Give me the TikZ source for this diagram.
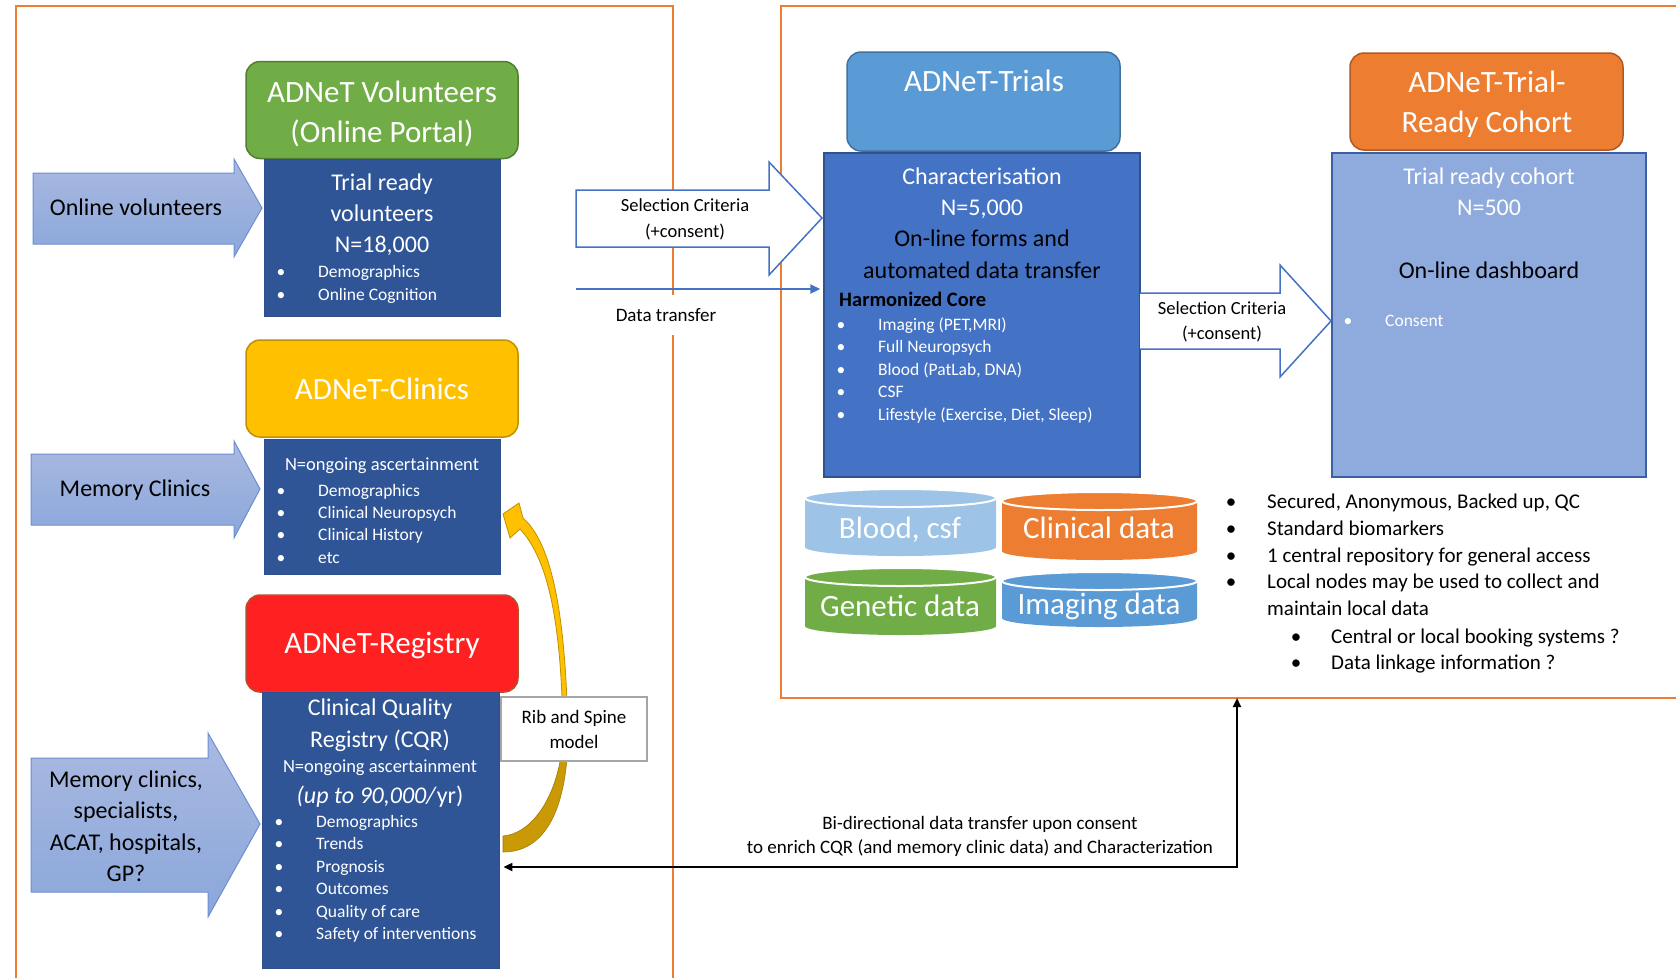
\documentclass[tikz,border=0pt]{standalone}
\usepackage{fontspec}
\setmainfont{Carlito}
\usetikzlibrary{arrows.meta}
\definecolor{panel}{HTML}{ED7D31}
\definecolor{dkblue}{HTML}{2F5597}
\definecolor{dkblueb}{HTML}{2E4F8C}
\definecolor{grn}{HTML}{70AD47}
\definecolor{grnb}{HTML}{507E32}
\definecolor{yel}{HTML}{FFC000}
\definecolor{yelb}{HTML}{BF9000}
\definecolor{rd}{HTML}{FF2121}
\definecolor{rdb}{HTML}{B5502E}
\definecolor{trl}{HTML}{5B9BD5}
\definecolor{trlb}{HTML}{41719C}
\definecolor{chr}{HTML}{4472C4}
\definecolor{chrb}{HTML}{2F528F}
\definecolor{org}{HTML}{ED7D31}
\definecolor{orgb}{HTML}{AE5A21}
\definecolor{lbl}{HTML}{8FAADC}
\definecolor{lblb}{HTML}{3A5FA5}
\definecolor{arT}{HTML}{AAB9E1}
\definecolor{arB}{HTML}{8AA7DA}
\definecolor{arD}{HTML}{6D8ED2}
\definecolor{selb}{HTML}{4472C4}
\definecolor{cylA}{HTML}{9DC3E6}
\definecolor{cylB}{HTML}{ED7D31}
\definecolor{cylC}{HTML}{70AD47}
\definecolor{cylD}{HTML}{5B9BD5}
\definecolor{gold}{HTML}{C99A06}
\definecolor{goldb}{HTML}{A37C00}
\definecolor{ribb}{HTML}{A6A6A6}
\tikzset{
  ttlbox/.style={rounded corners=14pt, line width=1.5pt, inner sep=0pt, minimum width=272pt, minimum height=97pt},
  dbox/.style={fill=dkblue, draw=dkblueb, line width=0.8pt, inner sep=0pt},
  ttl/.style={text=white, font=\fontsize{31}{40}\selectfont, align=center, inner sep=0pt},
  big/.style={font=\fontsize{24}{31}\selectfont, inner sep=0pt, anchor=mid, yshift=-5pt},
  mid18/.style={font=\fontsize{18.5}{23}\selectfont, inner sep=0pt, anchor=mid, yshift=-3pt},
  sml/.style={font=\fontsize{17.5}{22}\selectfont, inner sep=0pt, anchor=mid west, yshift=-3pt},
  dot/.style={font=\fontsize{17.5}{22}\selectfont, inner sep=0pt, anchor=mid, yshift=-3pt},
  med/.style={font=\fontsize{19}{24}\selectfont, inner sep=0pt},
  rl/.style={font=\fontsize{21}{26}\selectfont, inner sep=0pt, anchor=mid west, yshift=-4pt},
  rdot/.style={font=\fontsize{21}{26}\selectfont, inner sep=0pt, anchor=mid, yshift=-4pt},
  cyl/.style={font=\fontsize{31}{38}\selectfont, text=white, inner sep=0pt, anchor=mid, yshift=-6pt},
  blockarrow/.style={top color=arT, bottom color=arB, draw=arD, line width=1pt},
  selarrow/.style={fill=white, draw=selb, line width=1.5pt},
  dtarrow/.style={draw=selb, line width=2.2pt, -{Triangle[length=10pt,width=9pt]}, shorten >=3pt},
  blk/.style={line width=2pt, {Triangle[length=9pt,width=8pt]}-{Triangle[length=9pt,width=8pt]}, shorten >=4pt},
}
\begin{document}
\begin{tikzpicture}[x=1pt,y=-1pt]
\useasboundingbox (0,0) rectangle (1676,978);
\fill[white] (0,0) rectangle (1676,978);

% panels
\draw[panel, line width=1.5pt] (16,978) -- (16,6) -- (673,6) -- (673,978);
\draw[panel, line width=1.5pt] (1676,6) -- (781,6) -- (781,698) -- (1676,698);

% ---------- left column ----------
\node[ttlbox, fill=grn, draw=grnb] (volt) at (382,110) {};
\node[ttl] (voltt) at (382,114) {ADNeT Volunteers\\(Online Portal)};
\node[dbox, minimum width=236pt, minimum height=157pt] (vol) at (382,237.5) {};
\node[big, text=white] (v1) at (382,183) {Trial ready};
\node[big, text=white] (v2) at (382,214) {volunteers};
\node[big, text=white] (v3) at (382,245) {N=18,000};
\foreach \t/\yy [count=\i] in {Demographics/272, Online Cognition/295}{
  \node[dot, text=white] (vb\i) at (281,\yy) {•};
  \node[sml, text=white] (vt\i) at (318,\yy) {\t};
}

\path[blockarrow] (33,173) -- (234,173) -- (234,159) -- (262,208) -- (234,257) -- (234,244) -- (33,244) -- cycle;
\node[big] (a1) at (136,208) {Online volunteers};

\node[ttlbox, fill=yel, draw=yelb] (clt) at (382,388.5) {};
\node[ttl] (cltt) at (382,389) {ADNeT-Clinics};
\node[dbox, minimum width=236pt, minimum height=135pt] (cli) at (382,506.5) {};
\node[mid18, text=white] (c0) at (382,465) {N=ongoing ascertainment};
\foreach \t/\yy [count=\i] in {Demographics/491, Clinical Neuropsych/513, Clinical History/535, etc/558}{
  \node[dot, text=white] (cb\i) at (281,\yy) {•};
  \node[sml, text=white] (ct\i) at (318,\yy) {\t};
}

\path[blockarrow] (31,454) -- (234,454) -- (234,441) -- (260,489) -- (234,538) -- (234,525) -- (31,525) -- cycle;
\node[big] (a2) at (135,489) {Memory Clinics};

\node[ttlbox, fill=rd, draw=rdb] (regt) at (382,643.5) {};
\node[ttl] (regtt) at (382,645) {ADNeT-Registry};
\node[dbox, minimum width=237pt, minimum height=276pt] (cqr) at (380.5,830) {};
\node[big, text=white] (r1) at (380,708) {Clinical Quality};
\node[big, text=white] (r2) at (380,740) {Registry (CQR)};
\node[mid18, text=white] (r3) at (380,767) {N=ongoing ascertainment};
\node[big, text=white] (r4) at (380,796) {\textit{(up to 90,000/}yr)};
\foreach \t/\yy [count=\i] in {Demographics/822, Trends/844, Prognosis/867, Outcomes/889, Quality of care/912, Safety of interventions/934}{
  \node[dot, text=white] (rb\i) at (279,\yy) {•};
  \node[sml, text=white] (rt\i) at (316,\yy) {\t};
}

\path[blockarrow] (31,758) -- (208,758) -- (208,733) -- (260,824) -- (208,917) -- (208,892) -- (31,892) -- cycle;
\node[align=center, font=\fontsize{24}{31.5}\selectfont, inner sep=0pt] (a3) at (126,826) {Memory clinics,\\specialists,\\ACAT, hospitals,\\GP?};

% yellow curved arrow
\path[fill=gold, draw=goldb, line width=0.6pt] (563,740) -- (568,740) .. controls (566,810) and (545,852) .. (503,852) -- (503,836) .. controls (530,834) and (558,800) .. (563,740) -- cycle;
\path[fill=yel, draw=yelb, line width=0.8pt] (503,514) -- (519,503) -- (523,518) .. controls (548,540) and (567,600) .. (568,750) -- (563,750) .. controls (563,612) and (545,556) .. (520,529) -- (510,538) -- cycle;

\node[draw=ribb, fill=white, line width=1.5pt, minimum width=146pt, minimum height=64pt, align=center, font=\fontsize{19}{25}\selectfont, inner sep=0pt] (rib) at (574,729) {Rib and Spine\\model};

% ---------- middle ----------
\path[selarrow] (576,190) -- (769,190) -- (769,162) -- (822,218) -- (769,275) -- (769,247) -- (576,247) -- cycle;
\node[mid18] (s1a) at (685,206) {Selection Criteria};
\node[mid18] (s1b) at (685,232) {(+consent)};

% ---------- right panel ----------
\node[ttlbox, fill=trl, draw=trlb, minimum width=273pt, minimum height=99pt] (trials) at (983.5,101.5) {};
\node[ttl] (trialst) at (984,81) {ADNeT-Trials};
\node[fill=chr, draw=chrb, line width=1.5pt, minimum width=316pt, minimum height=324pt, inner sep=0pt] (char) at (982,315) {};
\node[big, text=white] (h1) at (982,177) {Characterisation};
\node[big, text=white] (h2) at (982,208) {N=5,000};
\node[big] (h3) at (982,239) {On-line forms and};
\node[big] (h4) at (982,271) {automated data transfer};
\node[font=\fontsize{20.5}{25}\bfseries, inner sep=0pt, anchor=mid west, yshift=-5pt] (h5) at (839,299) {Harmonized Core};
\foreach \t/\yy [count=\i] in {{Imaging (PET,MRI)}/325, Full Neuropsych/347, {Blood (PatLab, DNA)}/370, CSF/392, {Lifestyle (Exercise, Diet, Sleep)}/415}{
  \node[dot, text=white] (hb\i) at (841,\yy) {•};
  \node[sml, text=white] (ht\i) at (878,\yy) {\t};
}

\coordinate (dt0) at (576,289);
\draw[dtarrow] (dt0) -- (char.west |- dt0);
\node[med, fill=white, inner xsep=4pt, minimum height=40pt] (dtl) at (666,315) {Data transfer};

\node[ttlbox, fill=org, draw=orgb, minimum width=273pt] (trc) at (1486.5,101.5) {};
\node[ttl] (trct) at (1487,104) {ADNeT-Trial-\\Ready Cohort};
\node[fill=lbl, draw=lblb, line width=1.5pt, minimum width=314pt, minimum height=324pt, inner sep=0pt] (cohort) at (1489,315) {};
\node[big, text=white] (k1) at (1489,177) {Trial ready cohort};
\node[big, text=white] (k2) at (1489,208) {N=500};
\node[big] (k3) at (1489,271) {On-line dashboard};
\node[dot, text=white] (kb1) at (1348,321) {•};
\node[sml, text=white] (kt1) at (1385,321) {Consent};

\path[selarrow] (1140,293) -- (1280,293) -- (1280,265) -- (1331,321) -- (1280,377) -- (1280,349) -- (1140,349);
\node[mid18] (s2a) at (1222,309) {Selection Criteria};
\node[mid18] (s2b) at (1222,334) {(+consent)};

% cylinders
\foreach \cx/\rx/\ty/\by/\col in {900.5/95.5/498/547/cylA, 1099.5/97.5/501/551/cylB, 900.5/95.5/577/626/cylC, 1099.5/97.5/581/618/cylD}{
  \path[fill=\col] (\cx-\rx,\ty) -- (\cx-\rx,\by) .. controls (\cx-\rx,\by+5) and (\cx-0.5523*\rx,\by+9) .. (\cx,\by+9) .. controls (\cx+0.5523*\rx,\by+9) and (\cx+\rx,\by+5) .. (\cx+\rx,\by) -- (\cx+\rx,\ty) -- cycle;
  \path[fill=\col, draw=white, line width=2pt] (\cx,\ty) ellipse [x radius=\rx, y radius=9];
}
\node[cyl] (cy1) at (900,530) {Blood, csf};
\node[cyl] (cy2) at (1099,530) {Clinical data};
\node[cyl] (cy3) at (900,608) {Genetic data};
\node[cyl] (cy4) at (1099,606) {Imaging data};

% right bullets
\foreach \t/\yy [count=\i] in {{Secured, Anonymous, Backed up, QC}/502, Standard biomarkers/529, 1 central repository for general access/556, Local nodes may be used to collect and/582}{
  \node[rdot] (lb\i) at (1231,\yy) {•};
  \node[rl] (lt\i) at (1267,\yy) {\t};
}
\node[rl] (lt5) at (1267,609) {maintain local data};
\node[rdot] (sb1) at (1296,637) {•};
\node[rl] (st1) at (1331,637) {Central or local booking systems ?};
\node[rdot] (sb2) at (1296,663) {•};
\node[rl] (st2) at (1331,663) {Data linkage information ?};

% bottom connector
\coordinate (rpb) at (1237,698);
\coordinate (bend) at (1237,867);
\draw[blk] (rpb) -- (bend) -- (cqr.east |- bend);
\node[med, align=center] (bdl) at (980,836) {Bi-directional data transfer upon consent\\to enrich CQR (and memory clinic data) and Characterization};
\end{tikzpicture}
\end{document}
